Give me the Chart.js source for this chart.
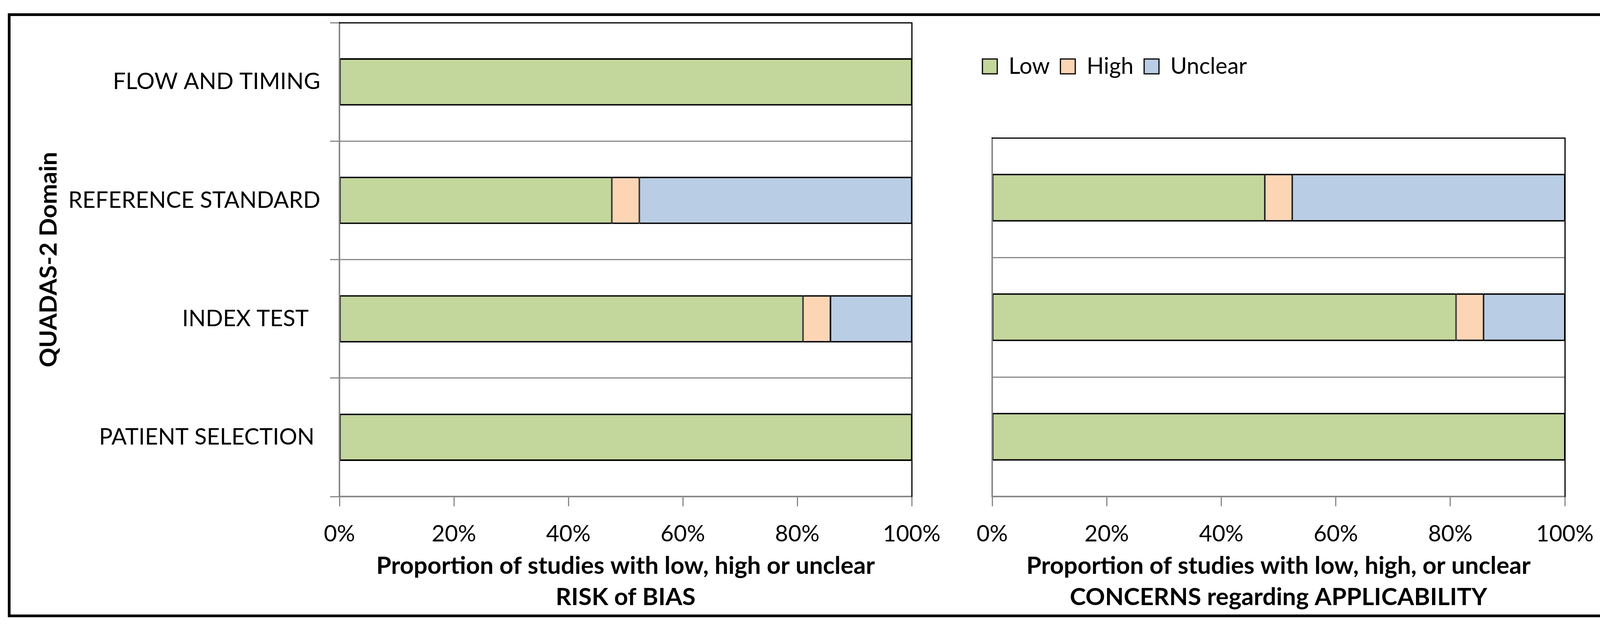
<!DOCTYPE html>
<html>
<head>
<meta charset="utf-8">
<script src="https://cdn.jsdelivr.net/npm/chart.js@4.4.1/dist/chart.umd.min.js"></script>
<style>
    html, body { margin: 0; padding: 0; background: #fff; }
    body { width: 4153px; height: 1605px; position: relative; overflow: hidden; }
    #frame { position: absolute; left: 20px; top: 34px; width: 4095px; height: 1532px; border: 7px solid #000; }
    canvas { position: absolute; }
    #cBias { left: 27px; top: 41px; }
    #cApplic { left: 2400px; top: 41px; }
</style>
</head>
<body>
<div id="frame"></div>
<canvas id="cBias" width="2453" height="1532"></canvas>
<canvas id="cApplic" width="1725" height="1532"></canvas>
<script>
// ===========================
// Data
// ===========================
const biasDomains = ['FLOW AND TIMING', 'REFERENCE STANDARD', 'INDEX TEST  ', 'PATIENT SELECTION '];
const biasLow = [100, 47.6, 81.0, 100];
const biasHigh = [0, 4.8, 4.8, 0];
const biasUnclear = [0, 47.6, 14.2, 0];

const applicDomains = ['REFERENCE STANDARD', 'INDEX TEST', 'PATIENT SELECTION'];
const applicLow = [47.6, 81.0, 100];
const applicHigh = [4.8, 4.8, 0];
const applicUnclear = [47.6, 14.2, 0];

const seriesNames = ['Low', 'High', 'Unclear'];
const seriesColors = ['#C3D69B', '#FCD5B5', '#B9CDE5'];
const xTicks = [0, 20, 40, 60, 80, 100];

const GREY = '#898989';
const FONT_SIZE = 58;
const TITLE_SIZE = 62;

Chart.defaults.font.family = 'Lato';
Chart.defaults.color = '#000';

// ===========================
// Helpers
// ===========================
function makeDatasets(low, high, unclear) {
    return [low, high, unclear].map((vals, i) => ({
        label: seriesNames[i],
        data: vals,
        xAxisID: 'x',
        yAxisID: 'y',
        backgroundColor: seriesColors[i],
        borderColor: '#000',
        borderWidth: { top: 4, bottom: 4, left: 2, right: 2 },
        borderSkipped: false,
        categoryPercentage: 1,
        barPercentage: 0.4
    }));
}

// sem isso os rotulos empurram a area do grafico
function noPad(s) {
    s.paddingTop = 0;
    s.paddingBottom = 0;
    s.paddingLeft = 0;
    s.paddingRight = 0;
}

function xAxis(titleLines) {
    return {
        type: 'linear',
        stacked: true,
        min: 0,
        max: 100,
        afterBuildTicks: s => { s.ticks = xTicks.map(v => ({ value: v })); },
        afterFit: s => { s.height = 302; noPad(s); },
        grid: { drawOnChartArea: false, drawTicks: true, tickLength: 25, color: GREY, lineWidth: 3 },
        border: { color: GREY, width: 4 },
        ticks: { padding: 36, maxRotation: 0, font: { size: FONT_SIZE }, callback: v => v + '%' },
        title: {
            display: true,
            text: titleLines,
            font: { size: TITLE_SIZE, weight: 'bold', lineHeight: 1.29 },
            padding: { top: 0, bottom: 4 }
        }
    };
}

// eixos "fantasma": espaco de cima e moldura preta
function frameTop(h) {
    return {
        type: 'linear',
        position: 'top',
        afterFit: s => { s.height = h; noPad(s); },
        grid: { display: false, drawTicks: false },
        ticks: { display: false },
        border: { display: true, color: '#000', width: 3, z: 1 }
    };
}

const frameRight = {
    type: 'linear',
    position: 'right',
    afterFit: s => { s.width = 0; noPad(s); },
    grid: { display: false, drawTicks: false },
    ticks: { display: false },
    border: { display: true, color: '#000', width: 3, z: 1 }
};

// ===========================
// RISK of BIAS
// ===========================
new Chart(document.getElementById('cBias'), {
    type: 'bar',
    data: {
        labels: biasDomains,
        datasets: makeDatasets(biasLow, biasHigh, biasUnclear)
    },
    options: {
        indexAxis: 'y',
        responsive: false,
        animation: false,
        devicePixelRatio: 1,
        layout: { padding: { left: 0, top: 0, right: 146, bottom: 0 } },
        plugins: { legend: { display: false }, tooltip: { enabled: false } },
        scales: {
            x: xAxis(['Proportion of studies with low, high or unclear', 'RISK of BIAS']),
            y: {
                type: 'category',
                stacked: true,
                afterFit: s => { s.width = 842; noPad(s); },
                grid: { offset: true, color: GREY, lineWidth: 3, tickLength: 24 },
                border: { color: GREY, width: 4 },
                ticks: { padding: 25, autoSkip: false, font: { size: FONT_SIZE } },
                title: {
                    display: true,
                    text: 'QUADAS-2 Domain',
                    font: { size: TITLE_SIZE, weight: 'bold' },
                    padding: { top: 61, bottom: 0 }
                }
            },
            xTop: frameTop(17),
            yRight: frameRight
        }
    }
});

// ===========================
// CONCERNS regarding APPLICABILITY
// ===========================
new Chart(document.getElementById('cApplic'), {
    type: 'bar',
    data: {
        labels: applicDomains,
        datasets: makeDatasets(applicLow, applicHigh, applicUnclear)
    },
    options: {
        indexAxis: 'y',
        responsive: false,
        animation: false,
        devicePixelRatio: 1,
        layout: { padding: { left: 88, top: 73, right: 119, bottom: 0 } },
        plugins: {
            tooltip: { enabled: false },
            legend: {
                position: 'top',
                align: 'start',
                labels: {
                    boxWidth: 38,
                    boxHeight: 38,
                    padding: 27,
                    font: { size: FONT_SIZE }
                }
            }
        },
        scales: {
            x: xAxis(['Proportion of studies with low, high, or unclear', 'CONCERNS regarding APPLICABILITY']),
            y: {
                type: 'category',
                stacked: true,
                afterFit: s => { s.width = 52; noPad(s); },
                grid: { offset: true, color: GREY, lineWidth: 3, drawTicks: false },
                border: { color: GREY, width: 4 },
                ticks: { display: false }
            },
            xTop: frameTop(144),
            yRight: frameRight
        }
    }
});
</script>
</body>
</html>
